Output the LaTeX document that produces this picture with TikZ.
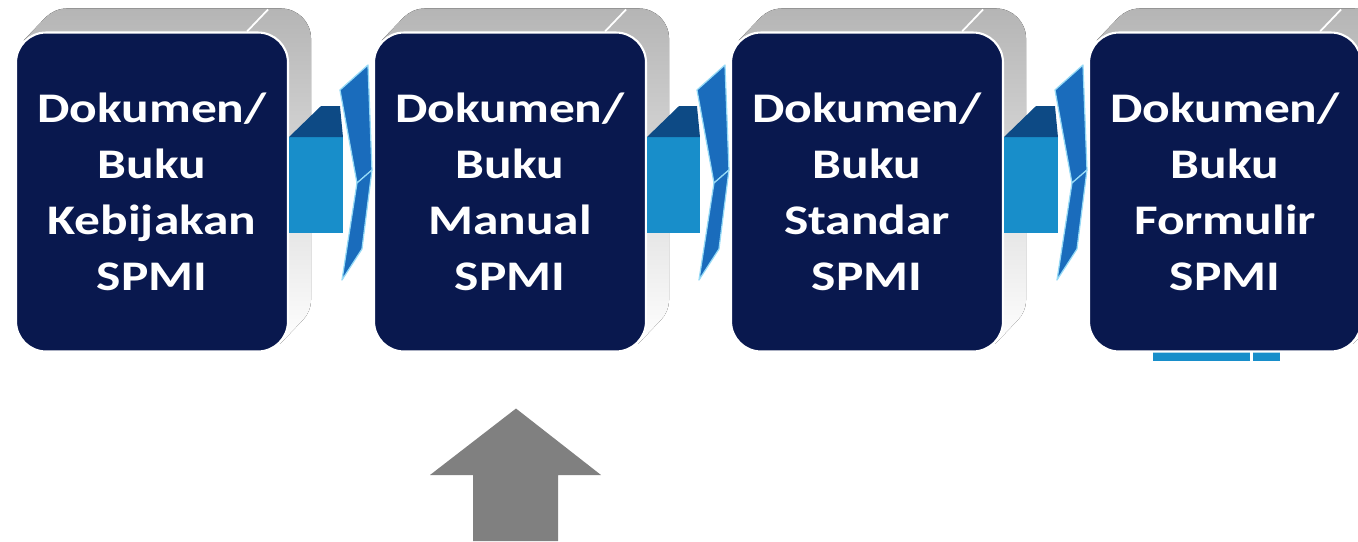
\documentclass[tikz,border=0pt]{standalone}
\usepackage{fontspec}
\newfontfamily\docfont[FakeStretch=1.22]{Carlito}
\usetikzlibrary{calc,backgrounds}
\definecolor{docnavy}{RGB}{9,24,78}
\definecolor{pipeblue}{RGB}{24,142,202}
\definecolor{pipedark}{RGB}{13,74,133}
\definecolor{wingblue}{RGB}{26,108,188}
\definecolor{wingedge}{RGB}{150,218,246}
\begin{document}
\begin{tikzpicture}[x=0.02cm, y=-0.02cm,
    doc/.style = { fill=docnavy, draw=white, line width=1.2pt, rounded corners=0.6cm,
        minimum width=5.44cm, minimum height=6.38cm, text=white, align=center,
        font=\docfont\bfseries\fontsize{24}{32}\selectfont },
    slab/.style = { top color=black!29, bottom color=white },
    bevel/.style = { draw=white, line width=1pt },
    pipe/.style = { fill=pipeblue },
    pipetop/.style = { fill=pipedark },
    wing/.style = { fill=wingblue, draw=wingedge, line width=0.7pt, line join=round },
    lift/.style = { fill=black!50 }
    ]
\useasboundingbox (0,0) rectangle (1358,541);
\node[doc] (KB) at (152,192) {Dokumen/\\Buku\\Kebijakan\\SPMI};
\node[doc] (MN) at (510,192) {Dokumen/\\Buku\\Manual\\SPMI};
\node[doc] (ST) at (867,192) {Dokumen/\\Buku\\Standar\\SPMI};
\node[doc] (FR) at (1225,192) {Dokumen/\\Buku\\Formulir\\SPMI};
%
\begin{scope}[on background layer]
\foreach \Box in {KB,MN,ST,FR} {
    \fill[slab] [rounded corners=0.6cm] ($(\Box.west)+(22,-23)$)
        -- ($(\Box.north west)+(22,-23)$) -- ($(\Box.north east)+(22,-23)$)
        -- ($(\Box.south east)+(22,-23)$) -- ($(\Box.south west)+(22,-23)$) -- cycle
        [sharp corners] ($(\Box.north west)+(8.8,8.8)$) -- ++(22,-23)
        -- ($(\Box.south east)+(13.2,-31.8)$) -- ($(\Box.south east)+(-8.8,-8.8)$) -- cycle;
    \draw[bevel] ($(\Box.north east)+(-42,0)$) -- ++(21,-22);
}
\fill[pipe] ($(FR.south)+(-72,-1)$) rectangle ($(FR.south)+(25,8)$);
\fill[pipe] ($(FR.south)+(28,-1)$) rectangle ($(FR.south)+(55,8)$);
\end{scope}
%
\foreach \Source/\Target in {KB/MN, MN/ST, ST/FR} {
    \fill[pipe] ($(\Source.east)+(0,-55)$) rectangle ($(\Target.west)+(-30,41)$);
    \fill[pipetop] ($(\Source.east)+(0,-55)$) -- ($(\Source.east)+(32,-86)$)
        -- ($(\Target.west)+(-33,-86)$) -- ($(\Target.west)+(-30,-55)$) -- cycle;
    \filldraw[wing] ($(\Target.west)+(-33,-102)$) -- ($(\Target.west)+(-5,-127)$)
        -- ($(\Target.west)+(-1,-22)$) -- ($(\Target.west)+(-16,-9)$) -- cycle;
    \filldraw[wing] ($(\Target.west)+(-16,-9)$) -- ($(\Target.west)+(-1,-22)$)
        -- ($(\Target.west)+(-11,57)$) -- ($(\Target.west)+(-31,88)$) -- cycle;
}
%
\coordinate (feed) at (516,541);
\fill[lift] ($(feed)+(-43,0)$) -- ++(0,-66) -- ++(-43,0) -- ($(MN.south)+(6,56)$)
    -- ($(feed)+(85,-66)$) -- ++(-43,0) -- ($(feed)+(42,0)$) -- cycle;
\end{tikzpicture}
\end{document}
